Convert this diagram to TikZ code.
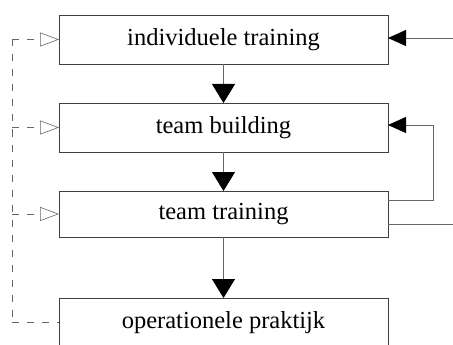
\documentclass[tikz,border=0pt]{standalone}
\usepackage{fontspec}
\setmainfont{Liberation Serif}
\usetikzlibrary{arrows.meta}
\definecolor{boxline}{gray}{0.25}
\definecolor{conline}{gray}{0.4}
\tikzset{
  stagebox/.style={draw=boxline, line width=0.9pt, minimum width=329pt, inner sep=0pt, outer sep=0pt,
    font=\fontsize{24.5}{28}\selectfont},
  downarrow/.style={draw=conline, line width=0.8pt, -{Triangle[length=19pt,width=23pt,color=black]}},
  sidearrow/.style={draw=conline, line width=0.8pt, -{Triangle[length=18pt,width=16pt,color=black]}},
  sideline/.style={draw=conline, line width=0.8pt},
  fbline/.style={draw=conline, line width=0.8pt, dash pattern=on 7pt off 8pt},
  fbarrow/.style={fbline, -{Triangle[open,length=19pt,width=14pt,color=conline,line width=0.6pt]}}
}
\begin{document}
\begin{tikzpicture}[x=1pt,y=-1pt]
\useasboundingbox (0,0) rectangle (453,345);
\clip (0,0) rectangle (453,345);
\node[stagebox, minimum height=49pt] (b1) at (223.5,39.5) {individuele training};
\node[stagebox, minimum height=49pt] (b2) at (223.5,127.5) {team building};
\node[stagebox, minimum height=46pt] (b3) at (223.5,214) {team training};
\node[stagebox, minimum height=49pt] (b4) at (223.5,322.5) {operationele praktijk};
\coordinate (L) at (12,0);
\coordinate (R) at (453,0);
\coordinate (R2) at (433,0);
% down flow
\draw[downarrow] (b1.south) -- (b2.north);
\draw[downarrow] (b2.south) -- (b3.north);
\draw[downarrow] (b3.south) -- (b4.north);
% left feedback
\draw[fbline] (b1.west -| L) -- (b4.west -| L);
\draw[fbarrow] (b1.west -| L) -- (b1.west);
\draw[fbarrow] (b2.west -| L) -- (b2.west);
\draw[fbarrow] (b3.west -| L) -- (b3.west);
\draw[fbline] (b4.west -| L) -- (b4.west);
% right side
\coordinate (in1) at ([yshift=1.5pt]b1.east);
\draw[sidearrow] (in1 -| R) -- (in1);
\coordinate (o3a) at ([yshift=14pt]b3.east);
\coordinate (o3b) at ([yshift=-10pt]b3.east);
\coordinate (in2) at ([yshift=2.5pt]b2.east);
\draw[sidearrow] (o3a) -- (o3a -| R2) -- (in2 -| R2) -- (in2);
\draw[sideline] (o3b) -- (o3b -| R);
\end{tikzpicture}
\end{document}
